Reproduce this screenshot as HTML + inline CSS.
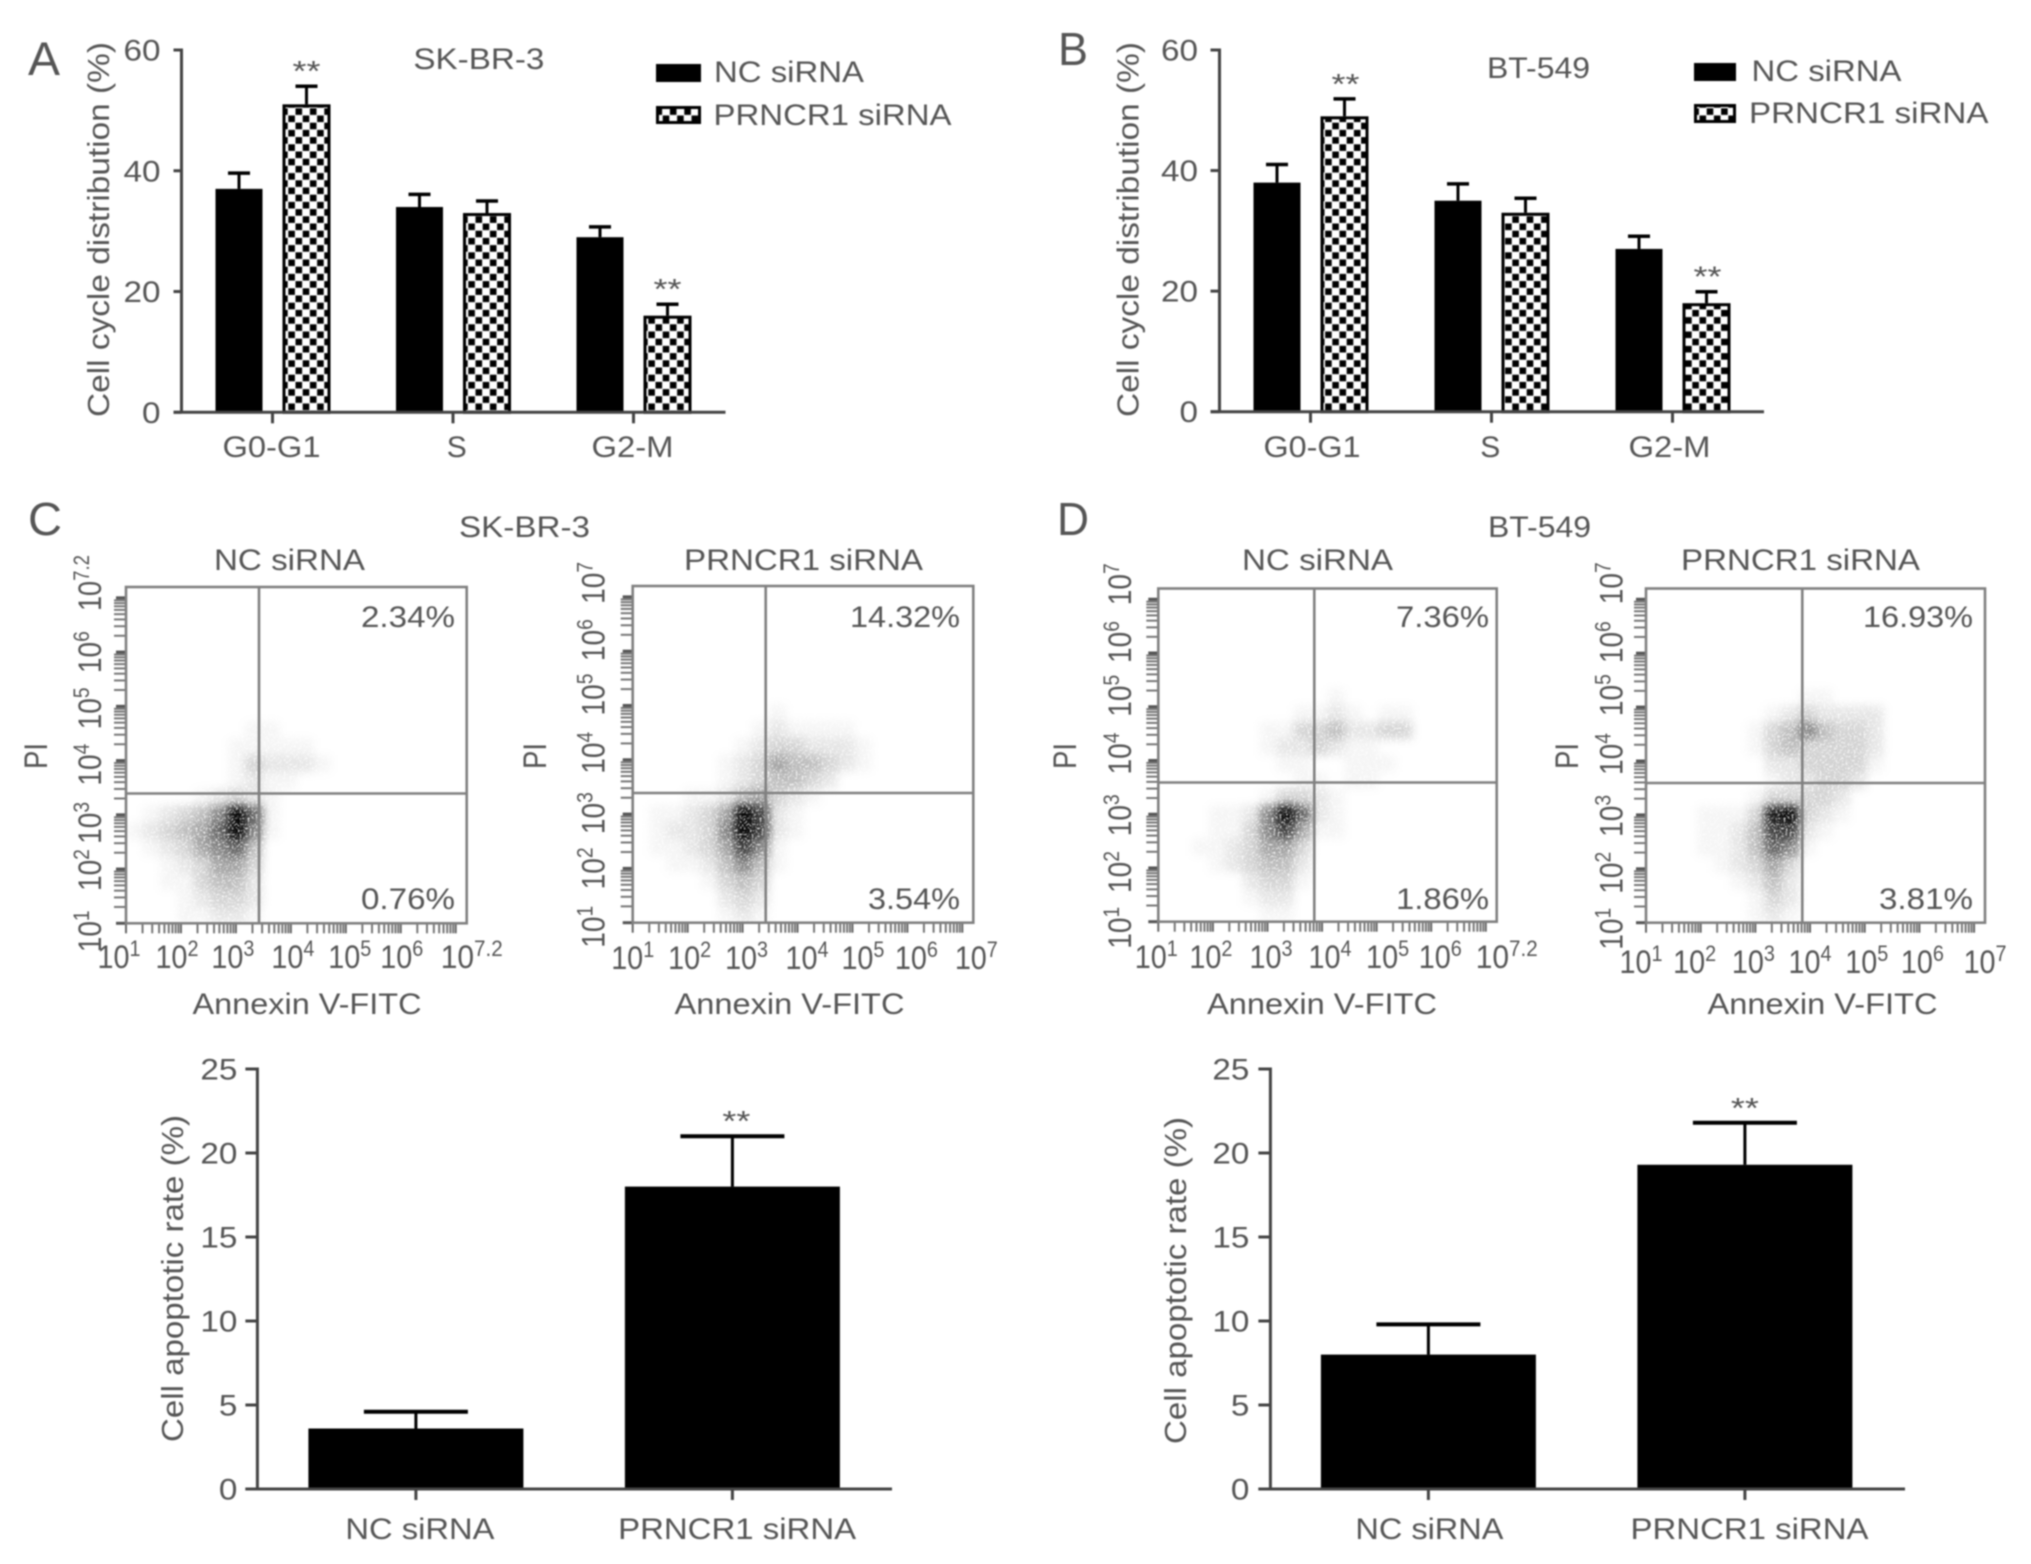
<!DOCTYPE html>
<html lang="en">
<head>
<meta charset="utf-8">
<title>PRNCR1 siRNA cell cycle and apoptosis</title>
<style>
html,body{margin:0;padding:0;background:#fff;width:2031px;height:1564px;overflow:hidden}
svg{display:block;filter:blur(.8px)}
text{font-family:"Liberation Sans",sans-serif;fill:#555}
</style>
</head>
<body>
<svg id="figure" xmlns="http://www.w3.org/2000/svg" width="2031" height="1564" viewBox="0 0 2031 1564">
  <defs>
    <pattern id="checker" width="14.4" height="14.4" patternUnits="userSpaceOnUse">
      <rect width="14.4" height="14.4" fill="#fff"/>
      <rect x="0.3" y="0.3" width="6.6" height="6.6" fill="#000"/>
      <rect x="7.5" y="7.5" width="6.6" height="6.6" fill="#000"/>
    </pattern>
    <filter id="grain" x="-5%" y="-5%" width="110%" height="110%" color-interpolation-filters="sRGB">
      <feGaussianBlur in="SourceGraphic" stdDeviation="4.5" result="soft"/>
      <feTurbulence type="fractalNoise" baseFrequency="0.5" numOctaves="2" seed="4" result="noise"/>
      <feColorMatrix in="noise" type="matrix" values="0 0 0 0 0  0 0 0 0 0  0 0 0 0 0  3.0 0 0 0 -0.55" result="mask"/>
      <feComposite in="soft" in2="mask" operator="in"/>
    </filter>
  </defs>
  <rect width="2031" height="1564" fill="#fff"/>

  <text x="28" y="75" font-size="47" textLength="32" lengthAdjust="spacingAndGlyphs">A</text>
  <text x="1058" y="65" font-size="46" textLength="30" lengthAdjust="spacingAndGlyphs">B</text>
  <text x="28" y="535" font-size="46" textLength="34" lengthAdjust="spacingAndGlyphs">C</text>
  <text x="1057" y="535" font-size="46" textLength="32" lengthAdjust="spacingAndGlyphs">D</text>

  <text x="413.4" y="69" font-size="30" textLength="131" lengthAdjust="spacingAndGlyphs">SK-BR-3</text>
  <text x="1487" y="78" font-size="30" textLength="103" lengthAdjust="spacingAndGlyphs">BT-549</text>
  <text x="459" y="537" font-size="30" textLength="131" lengthAdjust="spacingAndGlyphs">SK-BR-3</text>
  <text x="1488" y="537" font-size="30" textLength="103" lengthAdjust="spacingAndGlyphs">BT-549</text>

  <text transform="translate(109 417) rotate(-90)" font-size="31" textLength="375" lengthAdjust="spacingAndGlyphs">Cell cycle distribution (%)</text>
  <text transform="translate(1138.5 417) rotate(-90)" font-size="31" textLength="375" lengthAdjust="spacingAndGlyphs">Cell cycle distribution (%)</text>
  <text transform="translate(183 1442) rotate(-90)" font-size="31" textLength="327" lengthAdjust="spacingAndGlyphs">Cell apoptotic rate (%)</text>
  <text transform="translate(1186 1444) rotate(-90)" font-size="31" textLength="327" lengthAdjust="spacingAndGlyphs">Cell apoptotic rate (%)</text>

  <g>
    <rect x="656" y="64" width="45" height="18" fill="#000"/>
    <text x="714" y="82" font-size="30" textLength="150" lengthAdjust="spacingAndGlyphs">NC siRNA</text>
    <rect x="657.5" y="107.5" width="42" height="15" fill="url(#checker)" stroke="#000" stroke-width="3"/>
    <text x="713.5" y="125" font-size="30" textLength="238" lengthAdjust="spacingAndGlyphs">PRNCR1 siRNA</text>
  </g>
  <g>
    <rect x="1694" y="63" width="42" height="18" fill="#000"/>
    <text x="1751.5" y="81" font-size="30" textLength="150" lengthAdjust="spacingAndGlyphs">NC siRNA</text>
    <rect x="1695.5" y="105.5" width="39" height="16" fill="url(#checker)" stroke="#000" stroke-width="3"/>
    <text x="1749" y="123" font-size="30" textLength="239.5" lengthAdjust="spacingAndGlyphs">PRNCR1 siRNA</text>
  </g>

  <text x="214" y="570" font-size="30" textLength="151" lengthAdjust="spacingAndGlyphs">NC siRNA</text>
  <text x="684" y="570" font-size="30" textLength="239" lengthAdjust="spacingAndGlyphs">PRNCR1 siRNA</text>
  <text x="1242" y="570" font-size="30" textLength="151" lengthAdjust="spacingAndGlyphs">NC siRNA</text>
  <text x="1681" y="570" font-size="30" textLength="239" lengthAdjust="spacingAndGlyphs">PRNCR1 siRNA</text>

  <text x="192.5" y="1014" font-size="30" textLength="229" lengthAdjust="spacingAndGlyphs">Annexin V-FITC</text>
  <text x="674.5" y="1014" font-size="30" textLength="230" lengthAdjust="spacingAndGlyphs">Annexin V-FITC</text>
  <text x="1207" y="1014" font-size="30" textLength="230" lengthAdjust="spacingAndGlyphs">Annexin V-FITC</text>
  <text x="1707.5" y="1014" font-size="30" textLength="230" lengthAdjust="spacingAndGlyphs">Annexin V-FITC</text>

  <text transform="translate(47 769) rotate(-90)" font-size="32" textLength="26" lengthAdjust="spacingAndGlyphs">PI</text>
  <text transform="translate(546 769) rotate(-90)" font-size="32" textLength="26" lengthAdjust="spacingAndGlyphs">PI</text>
  <text transform="translate(1076 769) rotate(-90)" font-size="32" textLength="26" lengthAdjust="spacingAndGlyphs">PI</text>
  <text transform="translate(1578 769) rotate(-90)" font-size="32" textLength="26" lengthAdjust="spacingAndGlyphs">PI</text>

  <text x="361" y="627" font-size="30" textLength="94" lengthAdjust="spacingAndGlyphs">2.34%</text>
  <text x="361" y="909" font-size="30" textLength="94" lengthAdjust="spacingAndGlyphs">0.76%</text>
  <text x="850" y="627" font-size="30" textLength="110" lengthAdjust="spacingAndGlyphs">14.32%</text>
  <text x="868" y="909" font-size="30" textLength="92" lengthAdjust="spacingAndGlyphs">3.54%</text>
  <text x="1396" y="627" font-size="30" textLength="93" lengthAdjust="spacingAndGlyphs">7.36%</text>
  <text x="1396" y="909" font-size="30" textLength="93" lengthAdjust="spacingAndGlyphs">1.86%</text>
  <text x="1863" y="627" font-size="30" textLength="110" lengthAdjust="spacingAndGlyphs">16.93%</text>
  <text x="1879" y="909" font-size="30" textLength="94" lengthAdjust="spacingAndGlyphs">3.81%</text>
</svg>

<script>
// ---------- Cell cycle bar chart data ----------
const cycleCategories = ['G0-G1', 'S', 'G2-M'];
const cycleTicks = [0, 20, 40, 60];
const skbr3NcValues = [37, 34, 29];
const skbr3NcErrors = [2.6, 2.1, 1.7];
const skbr3PrValues = [51, 33, 16];
const skbr3PrErrors = [3, 2, 1.9];
const skbr3PrStars = [true, false, true];
const bt549NcValues = [38, 35, 27];
const bt549NcErrors = [3, 2.8, 2.1];
const bt549PrValues = [49, 33, 18];
const bt549PrErrors = [2.9, 2.4, 1.9];
const bt549PrStars = [true, false, true];

// ---------- Apoptosis bar chart data ----------
const apoptosisCategories = ['NC siRNA', 'PRNCR1 siRNA'];
const apoptosisTicks = [0, 5, 10, 15, 20, 25];
const skbr3ApoptosisValues = [3.6, 18];
const skbr3ApoptosisErrors = [1, 3];
const skbr3ApoptosisStars = [false, true];
const bt549ApoptosisValues = [8, 19.3];
const bt549ApoptosisErrors = [1.8, 2.5];
const bt549ApoptosisStars = [false, true];

// ---------- Flow cytometry axes ----------
const logDecades = [1, 2, 3, 4, 5, 6, 7];
const logMinors = [2, 3, 4, 5, 6, 7, 8, 9];
const exponentsLong = [1, 2, 3, 4, 5, 6, 7.2];
const exponentsShort = [1, 2, 3, 4, 5, 6, 7];

// ---------- Flow cytometry density, estimated on a 20x20 grid (rows top to bottom) ----------
const densityC1 = [[],[],[],[],[],[],[],[],
[0,0,0,0,0,0,0,1,1],
[0,0,0,0,0,0,1,1,1,1,1],
[0,0,0,0,0,0,1,3,2,2,2,1],
[0,0,0,0,0,0,1,2,1,1],
[0,0,0,0,1,2,3,2,1],
[0,1,2,3,4,6,10,7,1],
[1,2,3,4,5,7,10,6,1],
[0,1,2,3,5,6,7,4],
[0,0,1,2,3,5,5,3],
[0,0,1,1,3,4,4,2],
[0,0,0,1,2,3,3,2],
[0,0,0,1,1,2,2,1]];
const densityC2 = [[],[],[],[],[],[],[],
[0,0,0,0,0,0,0,0,1],
[0,0,0,0,0,0,0,1,2,1,1,1,1],
[0,0,0,0,0,0,1,2,3,3,2,2,2,1],
[0,0,0,0,0,1,2,3,5,4,4,3,2,1],
[0,0,0,0,0,1,2,3,4,4,3,2],
[0,0,0,1,1,2,4,5,3,2,1],
[0,1,1,2,3,5,10,8,2,1],
[0,1,2,2,3,6,10,8,2,1],
[0,1,1,2,3,5,8,6,1],
[0,0,1,1,2,4,6,4,1],
[0,0,0,0,1,3,4,3],
[0,0,0,0,0,2,3,2],
[0,0,0,0,0,1,2,1]];
const densityD1 = [[],[],[],[],[],[],
[0,0,0,0,0,0,0,0,0,0,1],
[0,0,0,0,0,0,0,0,1,1,2,1,0,1,1],
[0,0,0,0,0,0,1,1,3,3,4,2,2,3,3],
[0,0,0,0,0,0,1,2,2,3,2,1,1],
[0,0,0,0,0,0,0,1,1,0,0,1,1,1],
[0,0,0,0,0,0,0,0,1,1,0,1,1],
[0,0,0,0,0,0,1,3,3,2,1],
[0,0,0,1,1,2,6,10,7,2,1],
[0,0,0,1,1,3,6,8,5,1,1],
[0,0,1,1,2,3,5,5,3],
[0,0,0,1,2,3,4,4,2],
[0,0,0,0,0,2,3,3,1],
[0,0,0,0,0,1,2,2],
[0,0,0,0,0,0,1,1]];
const densityD2 = [[],[],[],[],[],[],
[0,0,0,0,0,0,0,0,0,1,1],
[0,0,0,0,0,0,0,1,2,3,2,2,2,2],
[0,0,0,0,0,0,1,3,4,6,4,3,3,2],
[0,0,0,0,0,0,1,3,4,3,3,3,3,2],
[0,0,0,0,0,0,0,2,2,3,3,3,3,1],
[0,0,0,0,0,0,0,1,2,2,3,3,2],
[0,0,0,0,0,0,1,3,3,3,3,2],
[0,0,0,1,1,1,3,9,10,3,2,1],
[0,0,0,1,1,2,4,8,8,2,1],
[0,0,0,1,1,2,4,7,6,1],
[0,0,0,0,1,2,3,5,3],
[0,0,0,0,0,1,2,4,2],
[0,0,0,0,0,0,1,3,2],
[0,0,0,0,0,0,1,2,1]];

// ---------- Drawing ----------
const NS = 'http://www.w3.org/2000/svg';
const root = document.getElementById('figure');
const AXIS = '#444';
const FRAME = '#808080';

function svgEl(tag, attrs, parent) {
  const node = document.createElementNS(NS, tag);
  Object.keys(attrs).forEach(function (k) { node.setAttribute(k, attrs[k]); });
  parent.appendChild(node);
  return node;
}
function textEl(str, attrs, parent) {
  const node = svgEl('text', attrs, parent);
  node.textContent = str;
  return node;
}
function drawLine(x1, y1, x2, y2, color, width, parent) {
  return svgEl('line', { x1: x1, y1: y1, x2: x2, y2: y2, stroke: color, 'stroke-width': width }, parent);
}

function drawBarAxes(cfg, yScale, xTick, ticks, categories) {
  const g = svgEl('g', {}, root);
  
  
  const yAxis = drawLine(cfg.axisX, yScale(ticks[ticks.length - 1]) - 1.5, cfg.axisX, yScale(0), AXIS, 3, g);
  
  
  const xAxis = drawLine(cfg.axisLeft, yScale(0), cfg.axisRight, yScale(0), AXIS, 3, g);
  
  
  ticks.forEach(function (t) {
    const mark = drawLine(cfg.axisLeft, yScale(t), cfg.axisX, yScale(t), AXIS, 3, g);
    
    
    const str = String(t);
    const tickLabel = textEl(str, {
      x: cfg.yLabelRight, y: yScale(t) + 10.5, 'font-size': 30, 'text-anchor': 'end',
      textLength: str.length * 18.5, lengthAdjust: 'spacingAndGlyphs'
    }, g);
    
    
  });
  categories.forEach(function (c, i) {
    const mark = drawLine(xTick(i), yScale(0), xTick(i), yScale(0) + 11, AXIS, 3, g);
    
    
    const catLabel = textEl(c, {
      x: xTick(i) + cfg.labelNudge[i], y: cfg.xLabelBaseline, 'font-size': 30, 'text-anchor': 'middle',
      textLength: cfg.labelLengths[i], lengthAdjust: 'spacingAndGlyphs'
    }, g);
    
    
  });
}

function drawBarSeries(cfg, yScale, left, right, values, errors, stars, patterned, seriesName) {
  values.forEach(function (v, i) {
    const x0 = left(i), x1 = right(i), mid = (x0 + x1) / 2;
    const top = yScale(v + errors[i]);
    const stem = drawLine(mid, yScale(v), mid, top, '#000', 3, root);
    
    
    const cap = drawLine(mid - cfg.capHalf, top, mid + cfg.capHalf, top, '#000', cfg.capWidth, root);
    
    
    const inset = patterned ? 1.5 : 0;
    const bar = svgEl('rect', {
      x: x0 + inset, y: yScale(v) + inset, width: x1 - x0 - 2 * inset,
      height: yScale(0) - yScale(v) - inset,
      fill: patterned ? 'url(#checker)' : '#000'
    }, root);
    if (patterned) {
      bar.setAttribute('stroke', '#000');
      bar.setAttribute('stroke-width', '3');
    }
    
    
    if (stars[i]) {
      const star = textEl('**', {
        x: mid + cfg.starNudge, y: top - 5, 'font-size': 29, 'text-anchor': 'middle',
        textLength: 28, lengthAdjust: 'spacingAndGlyphs'
      }, root);
      
      
    }
  });
}

function cycleChart(cfg, ncValues, ncErrors, prValues, prErrors, prStars) {
  const yScale = function (v) { return cfg.y0 - (v / 60) * (cfg.y0 - cfg.yTop); };
  const xTick = function (i) { return cfg.tick0 + i * cfg.spacing; };
  drawBarSeries(cfg, yScale, function (i) { return xTick(i) - 57; }, function (i) { return xTick(i) - 10; },
    ncValues, ncErrors, ncValues.map(function () { return false; }), false, cfg.name + '-nc');
  drawBarSeries(cfg, yScale, function (i) { return xTick(i) + 10; }, function (i) { return xTick(i) + 58; },
    prValues, prErrors, prStars, true, cfg.name + '-prncr1');
  drawBarAxes(cfg, yScale, xTick, cycleTicks, cycleCategories);
}

function apoptosisChart(cfg, values, errors, stars) {
  const yScale = function (v) { return cfg.y0 - (v / 25) * (cfg.y0 - cfg.yTop); };
  const xTick = function (i) { return cfg.tick0 + i * cfg.spacing; };
  drawBarSeries(cfg, yScale, function (i) { return xTick(i) - 107.5; }, function (i) { return xTick(i) + 107.5; },
    values, errors, stars, false, cfg.name);
  drawBarAxes(cfg, yScale, xTick, apoptosisTicks, apoptosisCategories);
}

let clipCount = 0;
function flowPlot(p) {
  const g = svgEl('g', {}, root);
  
  
  const w = p.right - p.left, h = p.bottom - p.top;
  const xLog = function (d) { return p.left + (d - 1) * w / 6.2; };
  const yLog = function (d) { return p.bottom - (d - 1) * h / 6.2; };

  // density cloud
  clipCount += 1;
  const clip = svgEl('clipPath', { id: 'plot-clip-' + clipCount }, g);
  svgEl('rect', { x: p.left, y: p.top, width: w, height: h }, clip);
  const clipped = svgEl('g', { 'clip-path': 'url(#plot-clip-' + clipCount + ')' }, g);
  const cloud = svgEl('g', { filter: 'url(#grain)' }, clipped);
  
  
  const cw = w / 20, ch = h / 20;
  p.density.forEach(function (row, r) {
    row.forEach(function (d, c) {
      if (!d) return;
      const cell = svgEl('rect', {
        x: p.left + c * cw, y: p.top + r * ch, width: cw + 0.5, height: ch + 0.5,
        fill: '#000', 'fill-opacity': Math.min(1, d * d / 130 + d / 30)
      }, cloud);
      
      
    });
  });

  // log ticks
  logDecades.forEach(function (d) {
    const mx = drawLine(xLog(d), p.bottom, xLog(d), p.bottom + 10, '#666', 2, g);
    
    
    const my = drawLine(p.left - 10, yLog(d), p.left, yLog(d), '#555', 3, g);
    
    
    if (d === 7) return;
    logMinors.forEach(function (m) {
      const offset = Math.log10(m);
      const tx = drawLine(xLog(d + offset), p.bottom, xLog(d + offset), p.bottom + 10, '#777', 2, g);
      
      
      const ty = drawLine(p.left - 12, yLog(d + offset), p.left, yLog(d + offset), '#777', 2, g);
      
      
    });
  });

  // frame and quadrant gates
  const frame = svgEl('rect', { x: p.left, y: p.top, width: w, height: h, fill: 'none', stroke: FRAME, 'stroke-width': 2.6 }, g);
  
  
  const hGate = drawLine(p.left, p.hGate, p.right, p.hGate, FRAME, 2.6, g);
  
  
  const vGate = drawLine(p.vGate, p.top, p.vGate, p.bottom, FRAME, 2.6, g);
  
  

  // x tick labels
  p.xExponents.forEach(function (d, i) {
    const long = d !== Math.floor(d);
    const t = svgEl('text', {
      x: xLog(d) + p.xNudges[i], y: p.xBaseline, 'font-size': 32, 'text-anchor': 'middle',
      textLength: long ? 62 : 43, lengthAdjust: 'spacingAndGlyphs'
    }, g);
    
    
    svgEl('tspan', {}, t).textContent = '10';
    svgEl('tspan', { dy: -12, 'font-size': 22 }, t).textContent = String(d);
  });

  // y tick labels
  p.yExponents.forEach(function (d, i) {
    const long = d !== Math.floor(d);
    const cy = yLog(d) + p.yNudges[i];
    const t = svgEl('text', {
      transform: 'translate(' + p.yBaseline + ' ' + cy + ') rotate(-90)',
      'font-size': 32, 'text-anchor': 'middle',
      textLength: long ? 56 : 42, lengthAdjust: 'spacingAndGlyphs'
    }, g);
    
    
    svgEl('tspan', {}, t).textContent = '10';
    svgEl('tspan', { dy: -12, 'font-size': 22 }, t).textContent = String(d);
  });
}

cycleChart({
  name: 'chart-a', axisX: 181.5, axisLeft: 173.5, axisRight: 725.5, y0: 412.3, yTop: 50, tick0: 272.5, spacing: 180.5,
  yLabelRight: 160.5, xLabelBaseline: 457, labelLengths: [98, 20, 82], labelNudge: [-1, 3.7, -1],
  capHalf: 11, capWidth: 3.5, starNudge: 0
}, skbr3NcValues, skbr3NcErrors, skbr3PrValues, skbr3PrErrors, skbr3PrStars);

cycleChart({
  name: 'chart-b', axisX: 1219.5, axisLeft: 1210.5, axisRight: 1764, y0: 411.7, yTop: 50, tick0: 1310.5, spacing: 181,
  yLabelRight: 1198, xLabelBaseline: 457, labelLengths: [97, 20, 82], labelNudge: [1.5, -1.3, -3],
  capHalf: 11, capWidth: 3.5, starNudge: 1
}, bt549NcValues, bt549NcErrors, bt549PrValues, bt549PrErrors, bt549PrStars);

apoptosisChart({
  name: 'apoptosis-c', axisX: 257.4, axisLeft: 245.4, axisRight: 892, y0: 1489, yTop: 1069, tick0: 415.9, spacing: 316.5,
  yLabelRight: 237.4, xLabelBaseline: 1539, labelLengths: [149, 238], labelNudge: [4, 4.7],
  capHalf: 52, capWidth: 4, starNudge: 4
}, skbr3ApoptosisValues, skbr3ApoptosisErrors, skbr3ApoptosisStars);

apoptosisChart({
  name: 'apoptosis-d', axisX: 1270.4, axisLeft: 1258.4, axisRight: 1905, y0: 1489, yTop: 1069, tick0: 1428.4, spacing: 316.5,
  yLabelRight: 1249.4, xLabelBaseline: 1539, labelLengths: [148, 238], labelNudge: [1, 4.6],
  capHalf: 52, capWidth: 4, starNudge: 0
}, bt549ApoptosisValues, bt549ApoptosisErrors, bt549ApoptosisStars);

flowPlot({
  name: 'flow-c1', left: 126, right: 466.7, top: 587, bottom: 923.3, hGate: 793.5, vGate: 259,
  density: densityC1, xExponents: exponentsLong, yExponents: exponentsLong,
  xNudges: [-7, -4, -3, 2, 4, 1, 5], yNudges: [8, 1, 8, 4, 2, 0, -4], xBaseline: 968, yBaseline: 101
});
flowPlot({
  name: 'flow-c2', left: 632.7, right: 973.3, top: 586, bottom: 922.7, hGate: 793, vGate: 765.7,
  density: densityC2, xExponents: exponentsShort, yExponents: exponentsShort,
  xNudges: [0, 2, 4, 9.5, 10.5, 9, 14], yNudges: [4, 0, -1, -7, -11, -11, -14], xBaseline: 969, yBaseline: 604.5
});
flowPlot({
  name: 'flow-d1', left: 1158.3, right: 1496.7, top: 588.5, bottom: 921.7, hGate: 782.5, vGate: 1314.3,
  density: densityD1, xExponents: exponentsLong, yExponents: exponentsShort,
  xNudges: [-2, -2, 3.5, 8, 11, 9, 10], yNudges: [6, 4, 1, -7, -11, -11, -15], xBaseline: 968, yBaseline: 1131
});
flowPlot({
  name: 'flow-d2', left: 1646, right: 1985, top: 588.5, bottom: 922.7, hGate: 783, vGate: 1802.3,
  density: densityD2, xExponents: exponentsShort, yExponents: exponentsShort,
  xNudges: [-5, -6, -2, 0, 2, 3, 11], yNudges: [6, 4, 1, -7, -12, -11, -16], xBaseline: 973, yBaseline: 1622.6
});
</script>
</body>
</html>
